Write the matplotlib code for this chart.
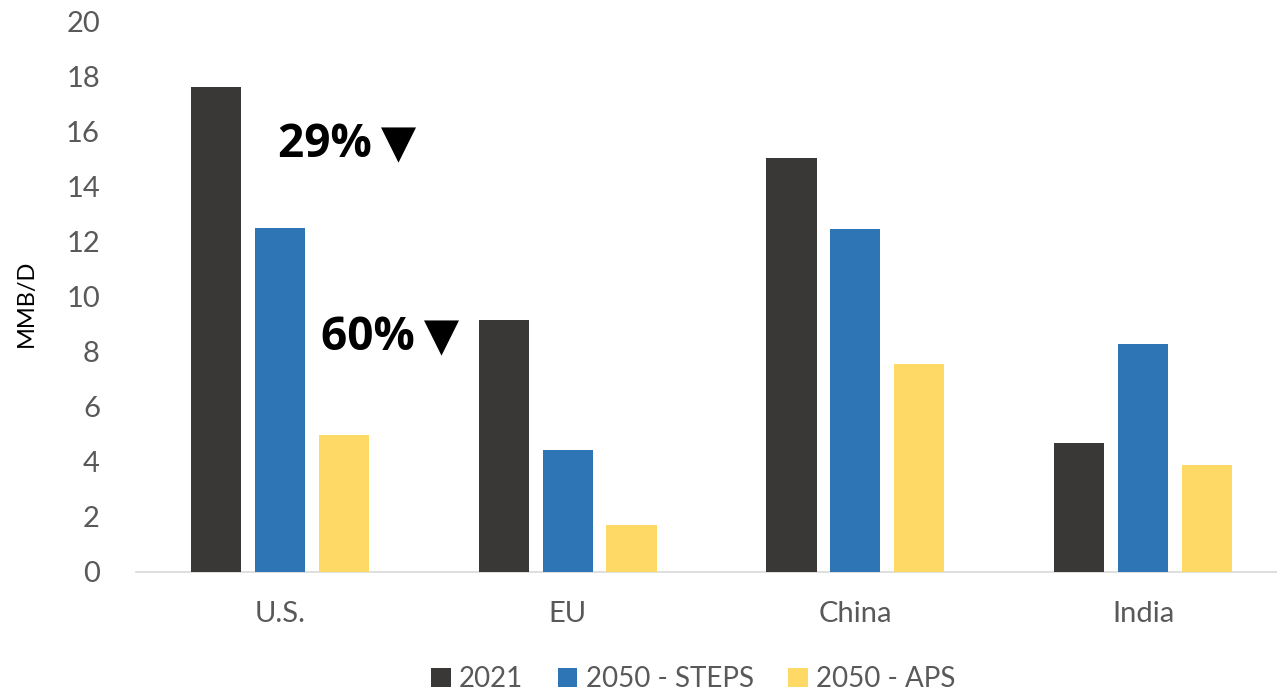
import matplotlib
matplotlib.use("Agg")
import matplotlib.pyplot as plt
import numpy as np

categories = ["U.S.", "EU", "China", "India"]
series_names = ["2021", "2050 - STEPS", "2050 - APS"]
v2021 = [17.6, 9.15, 15.03, 4.68]
v_steps = [12.5, 4.43, 12.45, 8.28]
v_aps = [4.97, 1.7, 7.55, 3.88]
colors = ["#3A3836", "#2E75B6", "#FFD966"]
yticks = [0, 2, 4, 6, 8, 10, 12, 14, 16, 18, 20]

plt.rcParams['font.family'] = ['Lato', 'DejaVu Sans']
W, H = 1277, 693
fig = plt.figure(figsize=(W/100, H/100), dpi=100)
ax = fig.add_axes([136/W, (H-572)/H, 1 - 136/W, (572-21)/H])

x = np.arange(len(categories))
bw = 0.174
step = 0.222
for i, (vals, name) in enumerate(zip([v2021, v_steps, v_aps], series_names)):
    ax.bar(x + (i-1)*step, vals, width=bw, color=colors[i], label=name, zorder=3)

ax.set_ylim(0, 20)
ax.set_xlim(-0.5, 3.5 - 10/288)
ax.set_yticks(yticks)
ax.set_xticks(x)
ax.set_xticklabels(categories)
for s in ["top", "right", "left"]:
    ax.spines[s].set_visible(False)
ax.spines["bottom"].set_color("#D9D9D9")
ax.spines["bottom"].set_linewidth(1.2)
ax.tick_params(axis="both", length=0, colors="#595959", labelsize=21)
ax.tick_params(axis="y", pad=26)
ax.tick_params(axis="x", pad=21)
fig.text(26/W, 1 - 303/H, "MMB/D", fontsize=17, color="#000000", rotation=90,
         ha="center", va="center")

def px_to_data(px, py):
    return ax.transData.inverted().transform((px, H - py))

fig.canvas.draw()
p1 = px_to_data(347, 145)
p2 = px_to_data(390, 338)
for p, s in [(p1, "29%\u2009▼"), (p2, "60%\u2009▼")]:
    ax.text(p[0], p[1], s, fontsize=33, fontweight="bold", ha="center", va="center",
            color="black", family=['Open Sans', 'DejaVu Sans'])

leg = fig.legend(loc="center", bbox_to_anchor=(0.543, 1 - 679/H), ncol=3, frameon=False,
                 fontsize=20, handlelength=0.7, handleheight=0.7, handletextpad=0.3,
                 columnspacing=1.25)
for t in leg.get_texts():
    t.set_color("#595959")

fig.savefig("out.png", dpi=100)
